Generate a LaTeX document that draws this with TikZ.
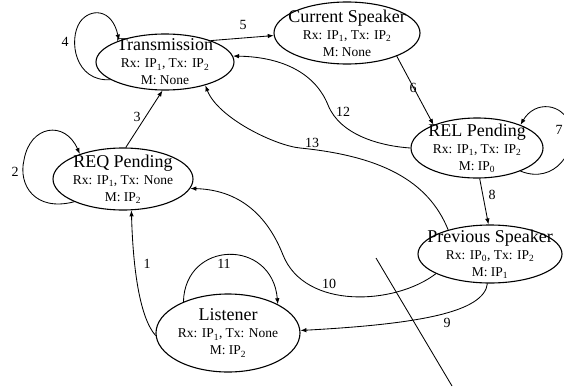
\documentclass[tikz,border=0pt]{standalone}
\usepackage{fontspec}
\setmainfont{Liberation Serif}
\usetikzlibrary{shapes.geometric,arrows.meta}
\newcommand\sttitle[1]{{\fontsize{18}{18}\selectfont #1}}
\tikzset{
  st/.style={draw, ellipse, line width=1.1pt, inner sep=0pt},
  lbl/.style={align=center, font=\fontsize{13.5}{17}\selectfont, inner sep=0pt},
  edge/.style={line width=0.85pt, -{Latex[length=6pt,width=4.5pt]}},
  num/.style={font=\fontsize{14}{14}\selectfont, inner sep=1pt},
}
\begin{document}
\begin{tikzpicture}[x=1pt,y=-1pt]
\useasboundingbox (0,0) rectangle (564,388);
\clip (0,0) rectangle (564,388);
\node[st, minimum width=138pt, minimum height=56pt,
  label={[lbl]center:{\sttitle{Transmission}\\Rx: IP\textsubscript{1}, Tx: IP\textsubscript{2}\\M: None}}] (trans) at (165,62) {};
\node[st, minimum width=146pt, minimum height=62pt,
  label={[lbl]center:{\sttitle{Current Speaker}\\Rx: IP\textsubscript{1}, Tx: IP\textsubscript{2}\\M: None}}] (cur) at (347,33) {};
\node[st, minimum width=132pt, minimum height=60pt,
  label={[lbl]center:{\sttitle{REL Pending}\\Rx: IP\textsubscript{1}, Tx: IP\textsubscript{2}\\M: IP\textsubscript{0}}}] (rel) at (477,148) {};
\node[st, minimum width=144pt, minimum height=58pt,
  label={[lbl]center:{\sttitle{Previous Speaker}\\Rx: IP\textsubscript{0}, Tx: IP\textsubscript{2}\\M: IP\textsubscript{1}}}] (prev) at (490,254) {};
\node[st, minimum width=140pt, minimum height=62pt,
  label={[lbl]center:{\sttitle{REQ Pending}\\Rx: IP\textsubscript{1}, Tx: None\\M: IP\textsubscript{2}}}] (req) at (123,179) {};
\node[st, minimum width=144pt, minimum height=78pt,
  label={[lbl]center:{\sttitle{Listener}\\Rx: IP\textsubscript{1}, Tx: None\\M: IP\textsubscript{2}}}] (lis) at (228,333) {};

\draw[edge] (lis.182) .. controls (140,318) and (133,270) .. (req.-75);
\draw[edge] (req.205) .. controls (35,212) and (18,185) .. (24,160) .. controls (30,125) and (65,120) .. (req.150);
\draw[edge] (req.85) -- (trans.-95);
\draw[edge] (trans.198) .. controls (75,82) and (68,40) .. (80,22) .. controls (90,8) and (112,8) .. (trans.155);
\draw[edge] (trans.25) -- (cur.182);
\draw[edge] (cur.-25) -- (rel.152);
\draw[edge] (rel.-28) .. controls (555,185) and (578,150) .. (570,125) .. controls (563,103) and (535,100) .. (rel.28);
\draw[edge] (rel.-85) -- (prev.93);
\draw[edge] (prev.-95) .. controls (484,312) and (420,324) .. (lis.2);
\draw[edge] (prev.200) .. controls (395,305) and (305,310) .. (283,255) .. controls (270,222) and (245,190) .. (req.-8);
\draw[edge] (lis.145) .. controls (185,240) and (272,238) .. (lis.30);
\draw[edge] (rel.180) .. controls (380,146) and (340,135) .. (328,105) .. controls (316,75) and (285,57) .. (trans.5);
\draw[edge] (prev.150) .. controls (428,180) and (380,156) .. (300,148) .. controls (275,145.5) and (218,118) .. (trans.-30);

\coordinate (s1) at (376,258);
\coordinate (s2) at (452,386);
\draw[line width=0.85pt] (s1) -- (s2);

\node[num] (l1) at (147,264) {1};
\node[num] (l2) at (15,172) {2};
\node[num] (l3) at (137,117) {3};
\node[num] (l4) at (65,42) {4};
\node[num] (l5) at (243,25) {5};
\node[num] (l6) at (413,88) {6};
\node[num] (l7) at (559,130) {7};
\node[num] (l8) at (492,195) {8};
\node[num] (l9) at (447,323) {9};
\node[num] (l10) at (329,284) {10};
\node[num] (l11) at (224,264) {11};
\node[num] (l12) at (343,112) {12};
\node[num] (l13) at (312,143) {13};
\end{tikzpicture}
\end{document}
